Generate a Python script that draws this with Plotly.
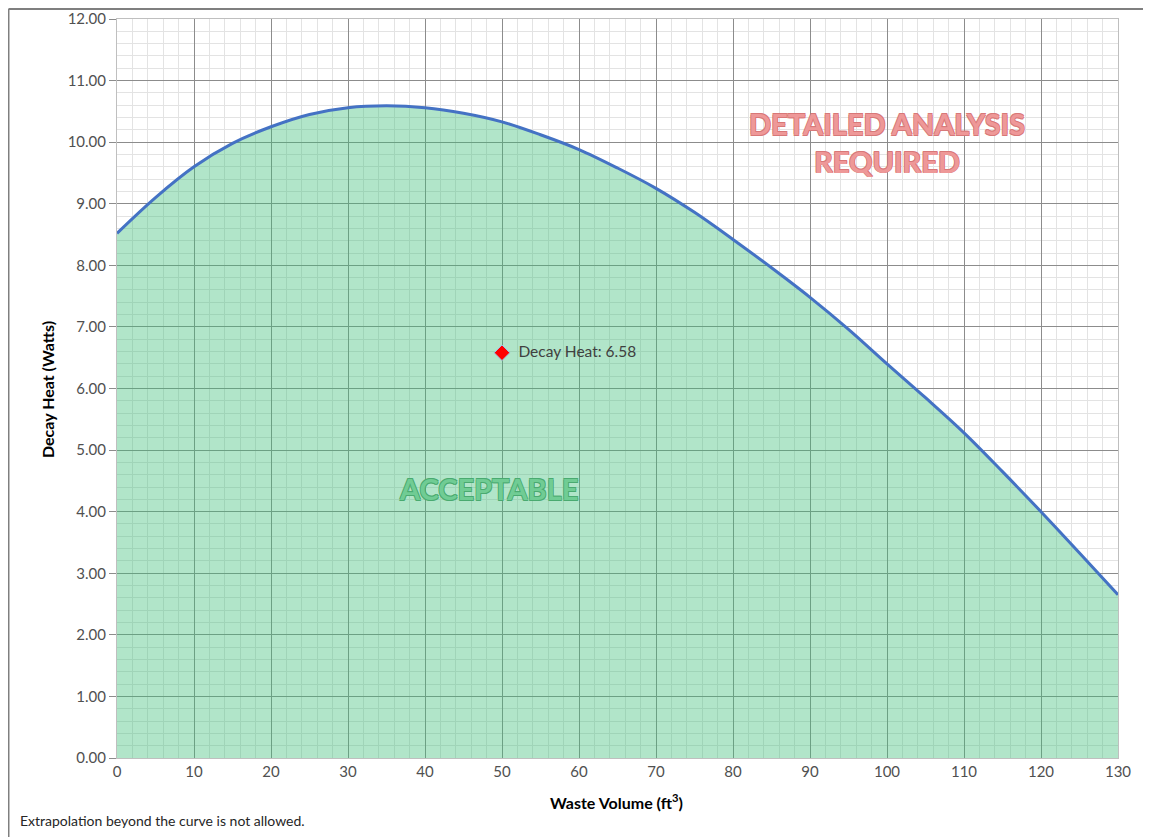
import plotly.graph_objects as go

# Curve data
waste_volume = [0, 5, 10, 15, 20, 25, 30, 35, 40, 45, 50, 55, 60, 65, 70,
                75, 80, 85, 90, 95, 100, 105, 110, 115, 120, 125, 130]
decay_heat = [8.52, 9.10, 9.60, 9.98, 10.25, 10.45, 10.56, 10.59, 10.56, 10.47,
              10.33, 10.12, 9.88, 9.58, 9.25, 8.86, 8.42, 7.96, 7.48, 6.96,
              6.40, 5.85, 5.28, 4.65, 4.00, 3.33, 2.65]

point_x = [50]
point_y = [6.58]
point_label = ["Decay Heat: 6.58"]

x_ticks = list(range(0, 131, 10))
y_ticks = [i * 1.0 for i in range(0, 13)]
y_tick_text = [f"{v:.2f}" for v in y_ticks]

FONT = "Lato"

fig = go.Figure()

# Acceptable region fill
fig.add_trace(go.Scatter(
    x=waste_volume, y=decay_heat, mode="lines",
    line=dict(width=0, shape="spline"),
    fill="tozeroy", fillcolor="rgba(60,190,120,0.40)",
    hoverinfo="skip", showlegend=False,
))
# Limit curve
fig.add_trace(go.Scatter(
    x=waste_volume, y=decay_heat, mode="lines",
    line=dict(color="#4472C4", width=3, shape="spline"),
    showlegend=False,
))
# Data point
fig.add_trace(go.Scatter(
    x=point_x, y=point_y, mode="markers+text",
    marker=dict(symbol="diamond", size=12, color="#FF0000",
                line=dict(color="#9DC3E6", width=1)),
    text=["\u00a0\u00a0" + t for t in point_label], textposition="middle right",
    textfont=dict(family=FONT, size=15.5, color="#404040"),
    showlegend=False,
))

axis_common = dict(
    showline=True, linecolor="#BFBFBF", linewidth=1, mirror=True,
    gridcolor="#8C8C8C", gridwidth=1,
    zeroline=False, automargin=False,
    tickfont=dict(family=FONT, size=15, color="#505050"),
)

fig.update_xaxes(
    range=[0, 130], tickvals=x_ticks, ticks="",
    minor=dict(dtick=2, showgrid=True, gridcolor="#E3E3E3", gridwidth=1),
    **axis_common,
)
fig.update_yaxes(
    range=[0, 12], tickvals=y_ticks, ticktext=y_tick_text,
    ticks="outside", ticklen=7, tickcolor="#8C8C8C",
    minor=dict(dtick=0.2, showgrid=True, gridcolor="#E3E3E3", gridwidth=1),
    **axis_common,
)

red_outline = "-0.7px -0.7px 0 #D87878, 0.7px -0.7px 0 #D87878, -0.7px 0.7px 0 #D87878, 0.7px 0.7px 0 #D87878"
green_outline = "-0.7px -0.7px 0 #4AAA70, 0.7px -0.7px 0 #4AAA70, -0.7px 0.7px 0 #4AAA70, 0.7px 0.7px 0 #4AAA70"

annotations = [
    dict(x=100, y=10.0, xref="x", yref="y",
         text="DETAILED ANALYSIS<br>REQUIRED", showarrow=False,
         font=dict(family=FONT, size=29, color="#EE9898", weight="bold",
                   shadow=red_outline),
         align="center"),
    dict(x=48.3, y=4.38, xref="x", yref="y",
         text="ACCEPTABLE", showarrow=False,
         font=dict(family=FONT, size=29, color="#70CC94", weight="bold",
                   shadow=green_outline)),
    dict(x=0.4995, y=-0.0595, xref="paper", yref="paper",
         text="Waste Volume (ft<sup>3</sup>)", showarrow=False,
         font=dict(family=FONT, size=16, color="#000000", weight="bold"),
         xanchor="center", yanchor="middle"),
    dict(x=-0.0689, y=0.498, xref="paper", yref="paper",
         text="Decay Heat (Watts)", showarrow=False, textangle=-90,
         font=dict(family=FONT, size=16, color="#000000", weight="bold"),
         xanchor="center", yanchor="middle"),
    dict(x=-0.0989, y=-0.0839, xref="paper", yref="paper",
         text="Extrapolation beyond the curve is not allowed.", showarrow=False,
         font=dict(family=FONT, size=14, color="#262626"),
         xanchor="left", yanchor="middle"),
]

shapes = [
    dict(type="line", xref="paper", yref="paper",
         x0=-0.1084, x1=1.04, y0=1.0135, y1=1.0135,
         line=dict(color="#7F7F7F", width=2)),
    dict(type="line", xref="paper", yref="paper",
         x0=-0.1084, x1=-0.1084, y0=1.0135, y1=-0.11,
         line=dict(color="#7F7F7F", width=2)),
]

fig.update_layout(
    width=1143, height=829,
    margin=dict(l=109, r=33, t=11, b=79, autoexpand=False),
    paper_bgcolor="white", plot_bgcolor="white",
    annotations=annotations, shapes=shapes,
    showlegend=False,
)

fig.write_html("out.html")
